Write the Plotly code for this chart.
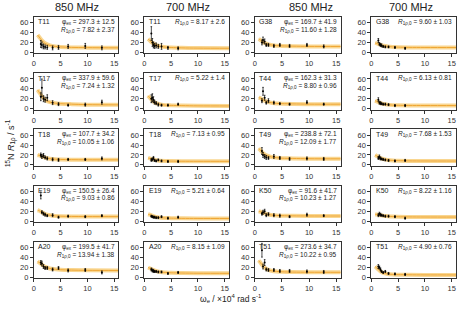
import plotly.graph_objects as go

# ---------------- data ----------------
X850 = [1.3, 1.5, 1.8, 2.1, 2.5, 3.5, 4.6, 6.4, 9.6, 12.7]
X700 = [1.3, 1.5, 1.7, 1.9, 2.2, 2.6, 3.2, 4.4, 6.3]
CX = [0.7, 1.0, 1.5, 2.0, 2.5, 3.0, 4.0, 5.0, 7.0, 10.0, 16.0]

LEFT_RES = ["T11", "T17", "T18", "E19", "A20"]
RIGHT_RES = ["G38", "T44", "T49", "K50", "T51"]

# 850 MHz measured R1rho and errors
T11_850_y = [17, 15, 12, 11, 10, 9, 10, 12, 13, 9]
T11_850_e = [7, 6, 5, 4, 4, 4, 4, 4, 5, 4]
T17_850_y = [24, 42, 20, 18, 22, 12, 9, 7, 8, 13]
T17_850_e = [8, 18, 6, 5, 6, 4, 3, 2, 3, 4]
T18_850_y = [20, 17, 19, 15, 13, 11, 10, 11, 11, 13]
T18_850_e = [4, 4, 4, 3, 3, 3, 3, 2, 2, 3]
E19_850_y = [52, 18, 15, 13, 11, 12, 8, 10, 9, 11]
E19_850_e = [7, 3, 3, 3, 2, 3, 2, 2, 2, 2]
A20_850_y = [30, 28, 22, 19, 19, 16, 19, 14, 15, 10]
A20_850_e = [4, 5, 4, 3, 3, 3, 3, 3, 3, 3]
G38_850_y = [20, 25, 22, 15, 15, 13, 15, 13, 15, 12]
G38_850_e = [5, 6, 5, 3, 3, 3, 3, 3, 3, 3]
T44_850_y = [16, 35, 22, 12, 16, 12, 10, 9, 13, 9]
T44_850_e = [4, 8, 5, 3, 4, 3, 2, 2, 3, 2]
T49_850_y = [28, 20, 17, 15, 14, 17, 14, 12, 13, 12]
T49_850_e = [7, 5, 4, 4, 3, 4, 3, 3, 3, 3]
K50_850_y = [15, 18, 20, 12, 14, 12, 11, 9, 13, 11]
K50_850_e = [3, 4, 4, 3, 3, 3, 3, 2, 3, 2]
T51_850_y = [55, 22, 30, 16, 15, 15, 13, 13, 12, 11]
T51_850_e = [14, 5, 6, 3, 3, 3, 3, 3, 3, 3]

# 700 MHz measured R1rho and errors
T11_700_y = [38, 20, 15, 13, 14, 12, 12, 9, 8]
T11_700_e = [14, 8, 6, 5, 5, 4, 6, 3, 3]
T17_700_y = [20, 22, 18, 13, 11, 8, 7, 7, 9]
T17_700_e = [8, 8, 6, 4, 3, 3, 2, 2, 2]
T18_700_y = [10, 11, 14, 9, 8, 10, 8, 7, 7]
T18_700_e = [3, 3, 3, 2, 2, 2, 2, 2, 2]
E19_700_y = [10, 9, 8, 8, 7, 7, 9, 6, 8]
E19_700_e = [2, 2, 2, 2, 2, 2, 2, 2, 2]
A20_700_y = [16, 14, 13, 12, 12, 11, 11, 8, 10]
A20_700_e = [3, 3, 3, 2, 2, 2, 2, 2, 2]
G38_700_y = [24, 17, 15, 14, 12, 11, 11, 10, 8]
G38_700_e = [4, 3, 3, 3, 2, 2, 2, 2, 2]
T44_700_y = [18, 12, 11, 10, 9, 9, 8, 6, 6]
T44_700_e = [4, 3, 3, 2, 2, 2, 2, 2, 2]
T49_700_y = [14, 16, 13, 12, 11, 10, 9, 8, 9]
T49_700_e = [3, 4, 3, 2, 2, 2, 2, 2, 2]
K50_700_y = [12, 15, 13, 12, 11, 10, 10, 9, 6]
K50_700_e = [3, 3, 3, 2, 2, 2, 2, 2, 2]
T51_700_y = [22, 20, 16, 12, 10, 12, 8, 7, 6]
T51_700_e = [4, 3, 3, 2, 2, 2, 2, 2, 2]

# fitted curves
T11_850_fit = [35, 31, 24, 19, 16, 14, 12, 11, 10, 9.5, 9]
T11_700_fit = [27, 24, 19, 16, 13.5, 12, 10.5, 9.8, 9, 8.5, 8.2]
G38_850_fit = [27, 25, 21, 18, 16, 15, 13.5, 13, 12.5, 12, 11.8]
G38_700_fit = [19, 18, 16, 14, 13, 12, 11, 10.5, 10, 9.8, 9.7]
T17_850_fit = [38, 33, 25, 19, 15, 13, 11, 10, 9, 8, 7.5]
T17_700_fit = [26, 22, 16, 12, 10, 8.5, 7, 6.5, 6, 5.5, 5.3]
T44_850_fit = [22, 21, 18, 15, 13, 12, 10.5, 10, 9.5, 9, 8.9]
T44_700_fit = [16, 14.5, 12, 10, 9, 8, 7, 6.7, 6.4, 6.2, 6.1]
T18_850_fit = [20, 19, 17, 15, 13.5, 12.5, 11.5, 11, 10.5, 10.2, 10.1]
T18_700_fit = [14, 13, 11.5, 10, 9, 8.5, 8, 7.6, 7.3, 7.2, 7.1]
T49_850_fit = [33, 30, 24, 20, 18, 16, 14.5, 13.5, 13, 12.4, 12.2]
T49_700_fit = [20, 18, 15, 12.5, 11, 10, 9, 8.5, 8, 7.8, 7.7]
E19_850_fit = [22, 21, 18, 15, 13, 12, 10.5, 10, 9.5, 9.2, 9.1]
E19_700_fit = [14, 13, 11, 9, 8, 7, 6.3, 6, 5.6, 5.4, 5.3]
K50_850_fit = [20, 19, 17, 15, 13.5, 12.5, 11.5, 11, 10.6, 10.4, 10.3]
K50_700_fit = [14, 13.5, 12.5, 11.5, 10.5, 10, 9.2, 8.8, 8.5, 8.3, 8.2]
A20_850_fit = [32, 30, 26, 22, 20, 18, 16.5, 15.5, 14.8, 14.3, 14.0]
A20_700_fit = [20, 18.5, 16, 13.5, 12, 11, 10, 9.3, 8.8, 8.4, 8.2]
T51_850_fit = [34, 30, 23, 18, 15, 13.5, 12, 11.3, 10.7, 10.4, 10.3]
T51_700_fit = [22, 19, 14, 10, 8, 7, 6, 5.5, 5.2, 5, 4.9]

PHI_850 = {"T11": "297.3 ± 12.5", "T17": "337.9 ± 59.6", "T18": "107.7 ± 34.2",
           "E19": "150.5 ± 26.4", "A20": "199.5 ± 41.7", "G38": "169.7 ± 41.9",
           "T44": "162.3 ± 31.3", "T49": "238.8 ± 72.1", "K50": "91.6 ± 41.7",
           "T51": "273.6 ± 34.7"}
R0_850 = {"T11": "7.82 ± 2.37", "T17": "7.24 ± 1.32", "T18": "10.05 ± 1.06",
          "E19": "9.03 ± 0.86", "A20": "13.94 ± 1.38", "G38": "11.60 ± 1.28",
          "T44": "8.80 ± 0.96", "T49": "12.09 ± 1.77", "K50": "10.23 ± 1.27",
          "T51": "10.22 ± 0.95"}
R0_700 = {"T11": "8.17 ± 2.6", "T17": "5.22 ± 1.4", "T18": "7.13 ± 0.95",
          "E19": "5.21 ± 0.64", "A20": "8.15 ± 1.09", "G38": "9.60 ± 1.03",
          "T44": "6.13 ± 0.81", "T49": "7.68 ± 1.53", "K50": "8.22 ± 1.16",
          "T51": "4.90 ± 0.76"}

# ---------------- layout ----------------
W, H = 460, 310
COLS_PX = [(32, 117), (143, 228), (254, 340), (371, 456)]
ZERO_PX = [53.0, 110.0, 167.0, 224.0, 281.0]
FONT = "Liberation Sans, Arial, sans-serif"
ORANGE_BAND = "#f9d690"
ORANGE_LINE = "#efa634"
TXT = "#222"

fig = go.Figure()
layout_axes = {}
annotations = []
g = globals()

idx = 0
for r in range(5):
    for c in range(4):
        idx += 1
        res = LEFT_RES[r] if c < 2 else RIGHT_RES[r]
        field = "850" if c % 2 == 0 else "700"
        xs = X850 if field == "850" else X700
        ys = g[f"{res}_{field}_y"]
        es = g[f"{res}_{field}_e"]
        fit = g[f"{res}_{field}_fit"]
        xa = "x" if idx == 1 else f"x{idx}"
        ya = "y" if idx == 1 else f"y{idx}"
        fig.add_trace(go.Scatter(x=CX, y=fit, mode="lines", line=dict(color=ORANGE_BAND, width=4, shape="spline"),
                                 xaxis=xa, yaxis=ya, showlegend=False, hoverinfo="skip"))
        fig.add_trace(go.Scatter(x=CX, y=fit, mode="lines", line=dict(color=ORANGE_LINE, width=1, shape="spline"),
                                 xaxis=xa, yaxis=ya, showlegend=False, hoverinfo="skip"))
        fig.add_trace(go.Scatter(x=xs, y=ys, mode="markers",
                                 marker=dict(color="black", size=2),
                                 error_y=dict(type="data", array=es, color="black", thickness=0.7, width=0.8),
                                 xaxis=xa, yaxis=ya, showlegend=False))
        x0, x1 = COLS_PX[c]
        z = ZERO_PX[r]
        top, bot = z - 36, z + 1
        axcommon = dict(showline=True, linecolor="#333", linewidth=1, mirror=True, ticks="outside",
                        ticklen=3, tickwidth=1, tickcolor="#333", showgrid=False, zeroline=False,
                        tickfont=dict(family=FONT, size=7.5, color="#333"))
        layout_axes["xaxis" if idx == 1 else f"xaxis{idx}"] = dict(
            domain=[x0 / W, x1 / W], range=[0, 15.8], tickvals=[0, 5, 10, 15],
            anchor=ya, **axcommon)
        layout_axes["yaxis" if idx == 1 else f"yaxis{idx}"] = dict(
            domain=[1 - bot / H, 1 - top / H], range=[-2, 72], tickvals=[0, 20, 40, 60],
            anchor=xa, **axcommon)
        dref_x = f"{xa} domain"
        dref_y = f"{ya} domain"
        annotations.append(dict(text=res, x=0.03, y=0.86, xref=dref_x, yref=dref_y, xanchor="left",
                                yanchor="middle", showarrow=False, font=dict(family=FONT, size=7, color=TXT)))
        if field == "850":
            annotations.append(dict(text=f"φ<sub>ex</sub> = {PHI_850[res]}", x=0.98, y=0.86,
                                    xref=dref_x, yref=dref_y, xanchor="right", yanchor="middle",
                                    showarrow=False, font=dict(family=FONT, size=6.5, color=TXT)))
            annotations.append(dict(text=f"<i>R</i><sub>1ρ,0</sub> = {R0_850[res]}", x=0.98, y=0.65,
                                    xref=dref_x, yref=dref_y, xanchor="right", yanchor="middle",
                                    showarrow=False, font=dict(family=FONT, size=6.5, color=TXT)))
        else:
            annotations.append(dict(text=f"<i>R</i><sub>1ρ,0</sub> = {R0_700[res]}", x=0.98, y=0.86,
                                    xref=dref_x, yref=dref_y, xanchor="right", yanchor="middle",
                                    showarrow=False, font=dict(family=FONT, size=6.5, color=TXT)))

HEADERS = ["850 MHz", "700 MHz", "850 MHz", "700 MHz"]
HEAD_X = [75, 187, 310, 411]
for t, hx in zip(HEADERS, HEAD_X):
    annotations.append(dict(text=t, x=hx / W, y=1 - 7 / H, xref="paper", yref="paper",
                            xanchor="center", yanchor="middle", showarrow=False,
                            font=dict(family=FONT, size=11, color=TXT)))

annotations.append(dict(text="<sup>15</sup>N <i>R</i><sub>1ρ</sub> / s<sup>-1</sup>", x=9 / W, y=1 - 145 / H,
                        xref="paper", yref="paper", textangle=-90, xanchor="center", yanchor="middle",
                        showarrow=False, font=dict(family=FONT, size=9, color=TXT)))
annotations.append(dict(text="ω<sub>e</sub> / ×10<sup>4</sup> rad s<sup>-1</sup>", x=230 / W, y=0,
                        xref="paper", yref="paper", xanchor="center", yanchor="bottom",
                        showarrow=False, font=dict(family=FONT, size=8.5, color=TXT)))

fig.update_layout(width=W, height=H, margin=dict(l=0, r=0, t=0, b=0),
                  paper_bgcolor="white", plot_bgcolor="white",
                  annotations=annotations, **layout_axes)

fig.write_html("out.html")
